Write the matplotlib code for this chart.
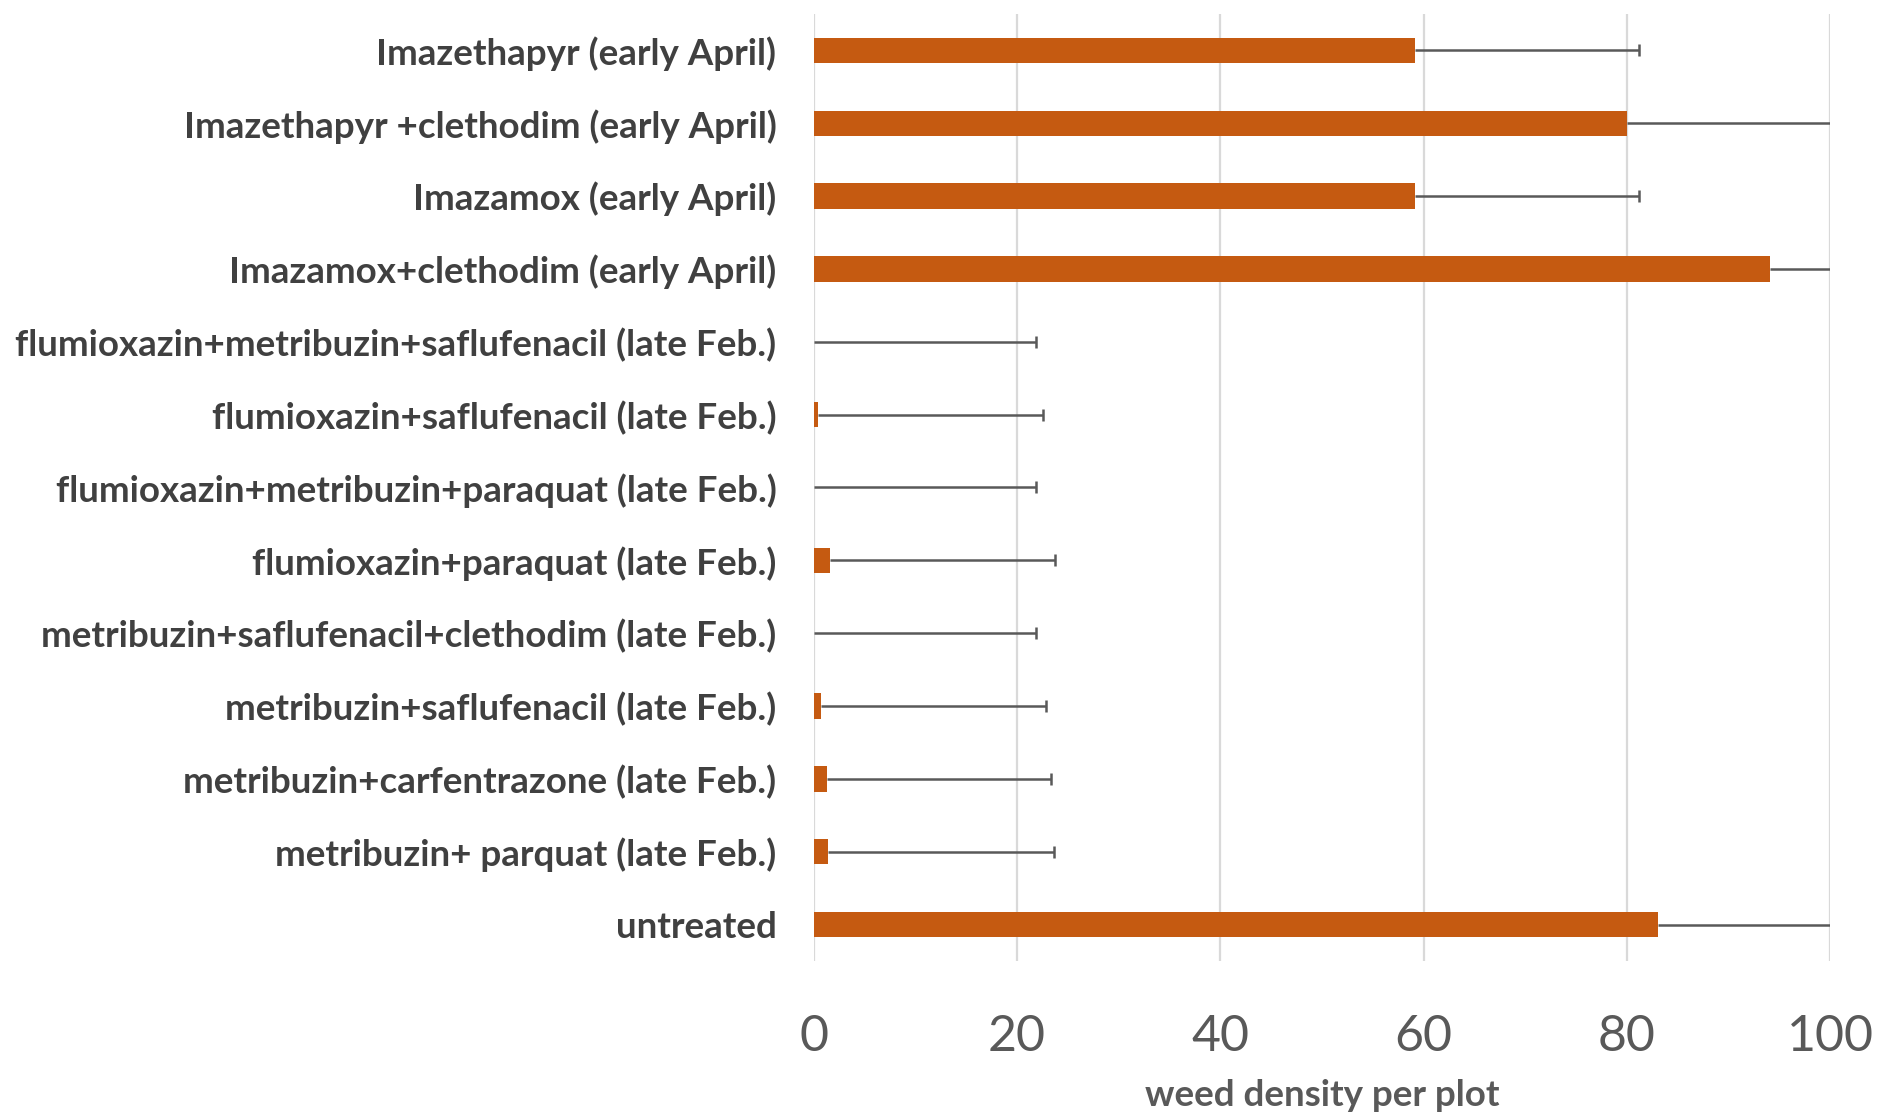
import matplotlib
matplotlib.use("Agg")
import matplotlib.pyplot as plt
import numpy as np

categories = [
    "Imazethapyr (early April)",
    "Imazethapyr +clethodim (early April)",
    "Imazamox (early April)",
    "Imazamox+clethodim (early April)",
    "flumioxazin+metribuzin+saflufenacil (late Feb.)",
    "flumioxazin+saflufenacil (late Feb.)",
    "flumioxazin+metribuzin+paraquat (late Feb.)",
    "flumioxazin+paraquat (late Feb.)",
    "metribuzin+saflufenacil+clethodim (late Feb.)",
    "metribuzin+saflufenacil (late Feb.)",
    "metribuzin+carfentrazone (late Feb.)",
    "metribuzin+ parquat (late Feb.)",
    "untreated",
]
density = [59.2, 80.0, 59.2, 94.1, 0.0, 0.4, 0.0, 1.6, 0.0, 0.65, 1.25, 1.4, 83.1]
err_plus = [22.0, 22.0, 22.0, 22.0, 21.9, 22.1, 21.9, 22.1, 21.9, 22.15, 22.05, 22.2, 22.0]
xticks = [0, 20, 40, 60, 80, 100]

fig = plt.figure(figsize=(18.78, 11.2), dpi=100)
ax = fig.add_axes([0.4334, 0.142, 0.5410, 0.8455])

y = np.arange(len(categories))
dens = np.array(density)
ends = dens + np.array(err_plus)
ax.barh(y, dens, height=0.35, color="#C55A11", zorder=3)
ax.hlines(y, dens, ends, colors="#595959", linewidth=1.8, zorder=4)
ax.plot(ends, y, linestyle="none", marker="|", markersize=9, markeredgewidth=1.8,
        color="#595959", zorder=4)

ax.set_xlim(0, 100)
ax.set_ylim(len(categories) - 0.5, -0.5)
ax.set_yticks(y)
ax.set_yticklabels(categories, fontfamily="Lato", fontweight="bold", fontsize=26.5, color="#404040")
ax.set_xticks(xticks)
ax.set_xticklabels([str(t) for t in xticks], fontfamily="Lato", fontweight="normal",
                   fontsize=36, color="#595959")
ax.tick_params(axis="both", length=0)
ax.tick_params(axis="y", pad=27)
ax.tick_params(axis="x", pad=38)
ax.xaxis.grid(True, color="#D9D9D9", linewidth=1.6, zorder=0)
ax.set_axisbelow(True)
for s in ax.spines.values():
    s.set_visible(False)
ax.set_xlabel("weed density per plot", fontfamily="Lato", fontweight="bold", fontsize=26.5,
              color="#595959", labelpad=14)

fig.savefig("out.png", dpi=100, facecolor="white")
